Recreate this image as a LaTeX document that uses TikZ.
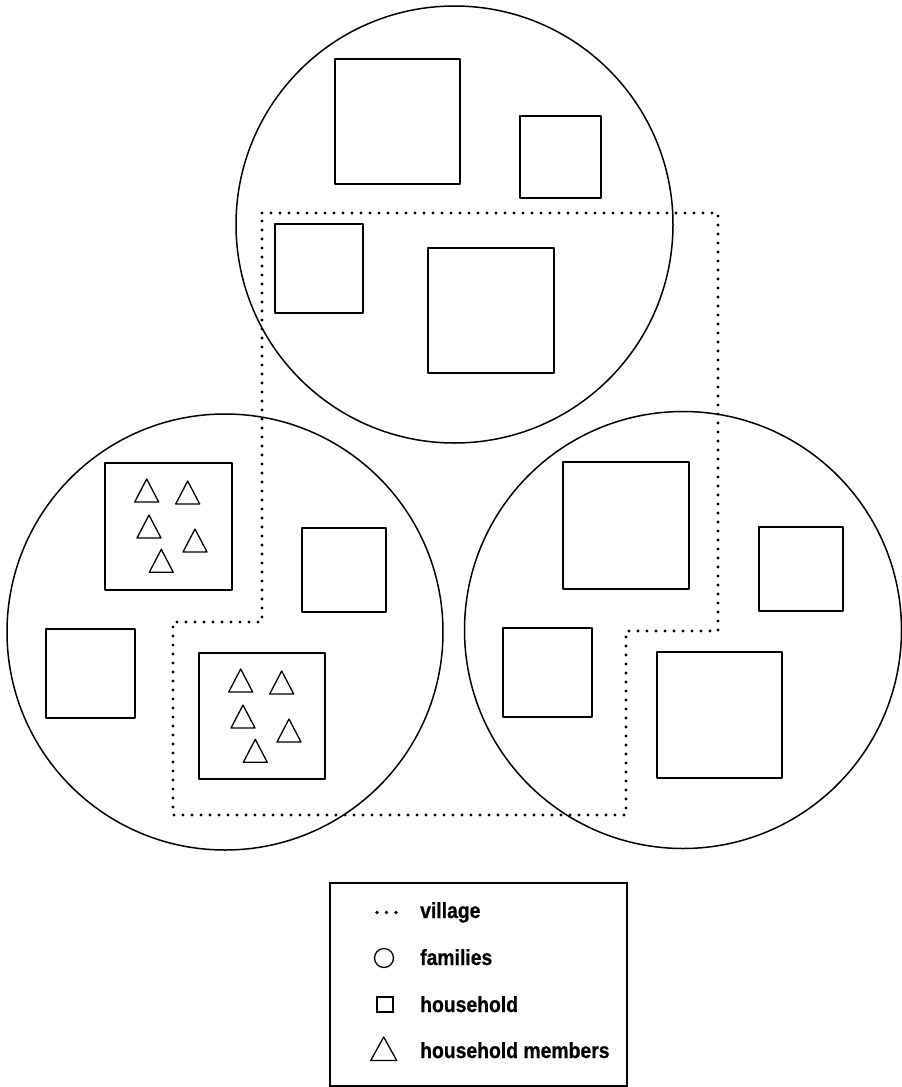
\documentclass[tikz,border=0pt]{standalone}
\usepackage{fontspec}
\newfontfamily\legendfont[FakeStretch=0.88, FakeBold=0.6]{Liberation Sans}
\begin{document}
\begin{tikzpicture}[x=1pt,y=-1pt,
  family/.style={line width=1.5pt},
  house/.style={line width=2.2pt, line join=round},
  member/.style={line width=1.3pt, line join=round},
  village/.style={line width=3.4pt, line cap=round, dash pattern=on 0pt off 9pt},
  legendtext/.style={anchor=base west, inner sep=0pt,
    font=\legendfont\bfseries\fontsize{22}{22}\selectfont},
  members/.pic={
    \foreach \a/\b in {41.7/16, 82.7/18, 44/52, 90/66, 56.3/86.3}
      \draw[member] (\a,\b) -- ++(12,23) -- ++(-24,0) -- cycle;
  }]
\useasboundingbox (0,0) rectangle (902,1087);

% families
\draw[family] (454.5,224.5) circle[radius=218.5];
\draw[family] (225,632) circle[radius=218];
\draw[family] (683,630) circle[radius=218.5];

% households, top family
\draw[house] (335,59) rectangle (460,184);
\draw[house] (520,116) rectangle (601,198);
\draw[house] (275,224) rectangle (363,313);
\draw[house] (428,248) rectangle (554,373);

% households, left family
\draw[house] (105,463) rectangle (232,590);
\pic at (105,463) {members};
\draw[house] (302,528) rectangle (386,612);
\draw[house] (46,629) rectangle (135,718);
\draw[house] (199,653) rectangle (325,779);
\pic at (199,653) {members};

% households, right family
\draw[house] (563,462) rectangle (689,589);
\draw[house] (759,527) rectangle (843,611);
\draw[house] (503,628) rectangle (592,717);
\draw[house] (657,652) rectangle (782,778);

% village boundary
\draw[village] (262,213) -- (718,213) -- (718,631) -- (626,631)
  -- (626,815) -- (173,815) -- (173,622) -- (262,622) -- cycle;

% legend
\draw[line width=1.8pt] (330,883) rectangle (627,1086);
\foreach \x in {377,386.5,396} \fill (\x,912.5) circle[radius=1.8];
\node[legendtext] (lv) at (420,918) {village};
\draw[line width=1.3pt] (384,958) circle[radius=9.5];
\node[legendtext] (lf) at (420,965) {families};
\draw[line width=1.3pt] (377,997) rectangle (393,1012);
\node[legendtext] (lh) at (420,1012) {household};
\draw[line width=1.3pt, line join=round] (383.7,1037) -- (396.7,1060.5) -- (370.7,1060.5) -- cycle;
\node[legendtext] (lm) at (420,1058) {household members};
\end{tikzpicture}
\end{document}
